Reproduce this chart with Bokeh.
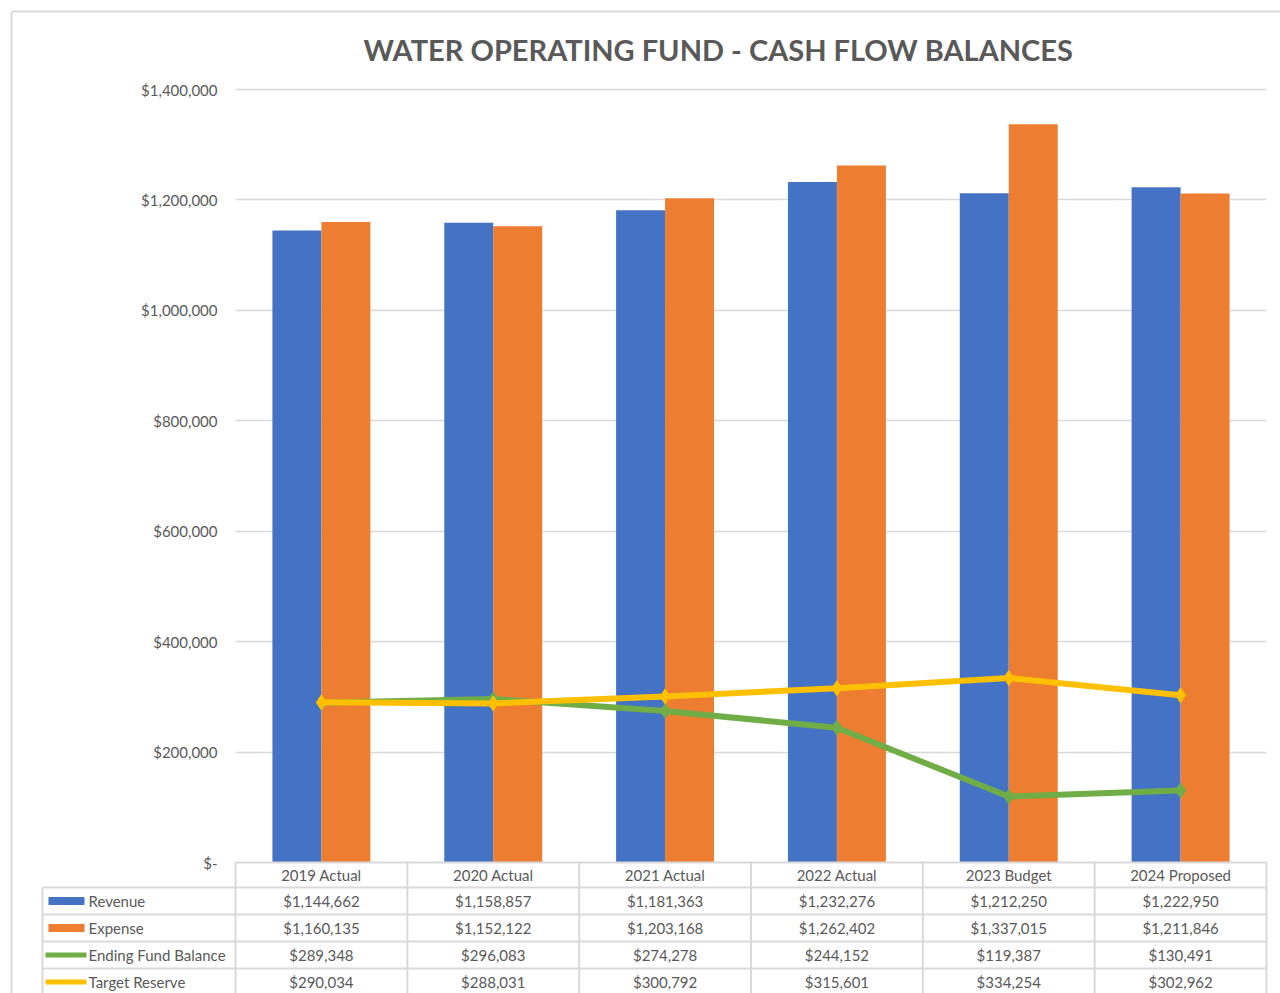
from bokeh.plotting import figure
from bokeh.models import Range1d, FixedTicker
from bokeh.core.properties import value
from bokeh.embed import file_html
from bokeh.resources import INLINE

# ---------------- data ----------------
categories = ["2019 Actual", "2020 Actual", "2021 Actual", "2022 Actual", "2023 Budget", "2024 Proposed"]
revenue = [1144662, 1158857, 1181363, 1232276, 1212250, 1222950]
expense = [1160135, 1152122, 1203168, 1262402, 1337015, 1211846]
ending_balance = [289348, 296083, 274278, 244152, 119387, 130491]
target_reserve = [290034, 288031, 300792, 315601, 334254, 302962]
series_names = ["Revenue", "Expense", "Ending Fund Balance", "Target Reserve"]
y_ticks = [0, 200000, 400000, 600000, 800000, 1000000, 1200000, 1400000]
y_tick_labels = ["$-", "$200,000", "$400,000", "$600,000", "$800,000", "$1,000,000", "$1,200,000", "$1,400,000"]

# ---------------- style / layout ----------------
BLUE, ORANGE, GREEN, YELLOW = "#4472C4", "#ED7D31", "#70AD47", "#FFC000"
TXT = "#595959"
GRID = "#D9D9D9"
FONT = "Lato"

W, H = 1280, 993
F_LEFT, F_RIGHT = 235, 1266  # frame in canvas px
F_TOP, F_ZERO = 80, 862
TICK_TOP = 89                # canvas px of the top tick
n = len(categories)
cat_w = (F_RIGHT - F_LEFT) / n
dpp = y_ticks[-1] / (F_ZERO - TICK_TOP)   # dollars per pixel


def X(px):
    return (px - F_LEFT) / cat_w


def Y(py):
    return (F_ZERO - py) * dpp


p = figure(width=W, height=H, output_backend="svg", toolbar_location=None,
           x_range=Range1d(0, n), y_range=Range1d(0, (F_ZERO - F_TOP) * dpp),
           min_border_left=F_LEFT, min_border_right=W - F_RIGHT,
           min_border_top=F_TOP, min_border_bottom=H - F_ZERO)
p.outline_line_color = None
p.background_fill_color = "white"
p.border_fill_color = "white"

# title
p.title.text = "WATER OPERATING FUND - CASH FLOW BALANCES"
p.title.text_font = FONT
p.title.text_font_size = "29px"
p.title.text_font_style = "bold"
p.title.text_color = TXT
p.title.align = "left"
p.title.offset = 128
p.title.standoff = 28

# y axis
p.yaxis.ticker = FixedTicker(ticks=y_ticks)
p.yaxis.major_label_overrides = {t: l for t, l in zip(y_ticks, y_tick_labels)}
p.yaxis.axis_line_color = None
p.yaxis.major_tick_line_color = None
p.yaxis.minor_tick_line_color = None
p.yaxis.major_tick_out = 0
p.yaxis.major_label_standoff = 18
p.yaxis.major_label_text_font = FONT
p.yaxis.major_label_text_font_size = "15px"
p.yaxis.major_label_text_color = TXT

# x axis = header row of the data table
centers = [i + 0.5 for i in range(n)]
p.xaxis.ticker = FixedTicker(ticks=centers)
p.xaxis.major_label_overrides = {c: cat for c, cat in zip(centers, categories)}
p.xaxis.axis_line_color = None
p.xaxis.major_tick_line_color = None
p.xaxis.minor_tick_line_color = None
p.xaxis.major_tick_out = 0
p.xaxis.major_label_standoff = 3
p.xaxis.major_label_text_font = FONT
p.xaxis.major_label_text_font_size = "15px"
p.xaxis.major_label_text_color = TXT

p.xgrid.grid_line_color = None
p.ygrid.grid_line_color = GRID
p.ygrid.grid_line_width = 1.5
p.ygrid.ticker = FixedTicker(ticks=y_ticks)

# bars
bw = 0.285
p.vbar(x=[c - bw / 2 for c in centers], top=revenue, width=bw, fill_color=BLUE, line_color=None)
p.vbar(x=[c + bw / 2 for c in centers], top=expense, width=bw, fill_color=ORANGE, line_color=None)

# lines
p.line(centers, ending_balance, line_color=GREEN, line_width=6)
p.scatter(centers, ending_balance, marker="diamond", size=15, fill_color=GREEN, line_color=GREEN)
p.line(centers, target_reserve, line_color=YELLOW, line_width=6)
p.scatter(centers, target_reserve, marker="diamond", size=15, fill_color=YELLOW, line_color=YELLOW)

# ---------------- data table ----------------
LEG_LEFT = 42
row_bounds = [F_ZERO, 887, 914, 941, 968, 995]      # canvas px
row_centers = [(row_bounds[i + 1] + row_bounds[i + 2]) / 2 for i in range(4)]
bottom_px = H

# horizontal lines
hx0, hx1, hy = [X(F_LEFT)], [X(F_RIGHT)], [Y(row_bounds[0])]
for b in row_bounds[1:]:
    hx0.append(X(LEG_LEFT)); hx1.append(X(F_RIGHT)); hy.append(Y(b))
p.segment(x0=hx0, x1=hx1, y0=hy, y1=hy, line_color=GRID, line_width=2, level="overlay")

# vertical lines
vx = [i for i in range(n + 1)]
p.segment(x0=vx, x1=vx, y0=[Y(F_ZERO)] * len(vx), y1=[Y(bottom_px)] * len(vx),
          line_color=GRID, line_width=2, level="overlay")
p.segment(x0=[X(LEG_LEFT)], x1=[X(LEG_LEFT)], y0=[Y(row_bounds[1])], y1=[Y(bottom_px)],
          line_color=GRID, line_width=2, level="overlay")

# values
table_series = [revenue, expense, ending_balance, target_reserve]
tx, ty, tt = [], [], []
for rc, vals in zip(row_centers, table_series):
    for c, v in zip(centers, vals):
        tx.append(c); ty.append(Y(rc)); tt.append("${:,}".format(v))
p.text(x=tx, y=ty, text=tt, text_align="center", text_baseline="middle",
       text_font=value(FONT), text_font_size="15px", text_color=TXT, level="overlay")

# legend keys
colors = [BLUE, ORANGE, GREEN, YELLOW]
for k, (rc, col) in enumerate(zip(row_centers, colors)):
    if k < 2:
        p.quad(left=[X(48)], right=[X(84)], top=[Y(rc - 4)], bottom=[Y(rc + 4)],
               fill_color=col, line_color=None, level="overlay")
    else:
        p.line([X(45), X(86)], [Y(rc), Y(rc)], line_color=col, line_width=5, level="overlay")
        p.scatter([X(65.5)], [Y(rc)], marker="diamond", size=12, fill_color=col, line_color=col,
                  level="overlay")
p.text(x=[X(88)] * 4, y=[Y(rc) for rc in row_centers], text=series_names,
       text_align="left", text_baseline="middle", text_font=value(FONT),
       text_font_size="15px", text_color=TXT, level="overlay")

# chart-area border (top and left edges)
p.segment(x0=[X(11), X(11)], x1=[X(W + 10), X(11)], y0=[Y(11), Y(11)], y1=[Y(11), Y(H + 10)],
          line_color=GRID, line_width=2, level="overlay")

open("out.html", "w").write(file_html(p, INLINE))
